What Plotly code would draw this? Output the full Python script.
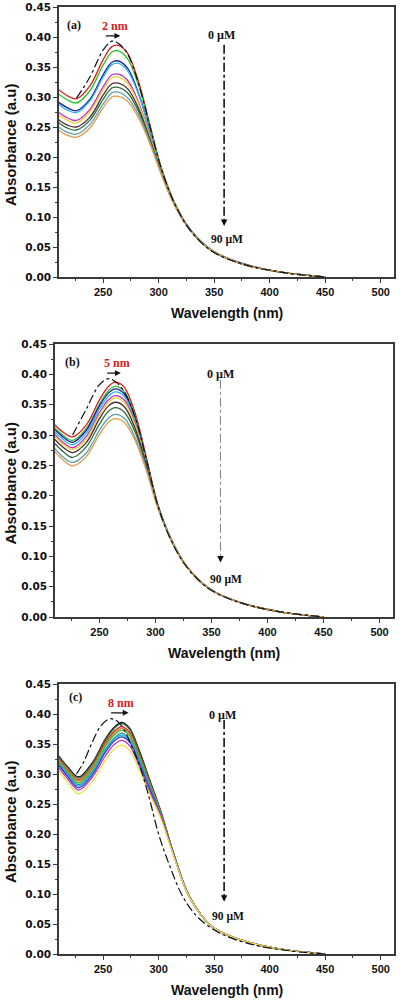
import plotly.graph_objects as go

# ---------------- data ----------------
wl = [210, 218, 226, 238, 250, 258, 264, 272, 282, 292, 302, 314, 328, 348, 375, 410, 450]
wl_c = [210, 218, 228, 240, 252, 260, 267, 274, 282, 292, 302, 314, 328, 348, 375, 410, 450]
wl_dash = [226, 238, 250, 258, 264, 272, 282, 292, 302, 314, 328, 348, 375, 410, 450]
wl_dash_c = [226, 232, 240, 248, 256, 262, 268, 276, 284, 292, 300, 310, 322, 336, 356, 386, 420, 450]

# panel (a)
a_0uM = [0.298, 0.333, 0.378, 0.393, 0.389, 0.372, 0.322, 0.252, 0.183, 0.124, 0.079, 0.043, 0.022, 0.008, 0.000]
a_1 = [0.312, 0.302, 0.297, 0.318, 0.362, 0.384, 0.386, 0.373, 0.325, 0.255, 0.185, 0.125, 0.080, 0.044, 0.022, 0.008, 0.000]
a_2 = [0.305, 0.295, 0.290, 0.310, 0.353, 0.375, 0.377, 0.364, 0.319, 0.252, 0.184, 0.125, 0.080, 0.044, 0.023, 0.008, 0.000]
a_3 = [0.291, 0.282, 0.277, 0.296, 0.337, 0.358, 0.360, 0.348, 0.306, 0.245, 0.181, 0.124, 0.080, 0.044, 0.022, 0.008, 0.000]
a_4 = [0.288, 0.278, 0.274, 0.293, 0.333, 0.354, 0.356, 0.344, 0.304, 0.244, 0.181, 0.124, 0.080, 0.045, 0.022, 0.008, 0.000]
a_5 = [0.274, 0.265, 0.261, 0.279, 0.317, 0.337, 0.338, 0.328, 0.291, 0.237, 0.178, 0.123, 0.079, 0.044, 0.023, 0.008, 0.000]
a_6 = [0.270, 0.261, 0.257, 0.275, 0.312, 0.332, 0.333, 0.323, 0.288, 0.235, 0.178, 0.123, 0.079, 0.044, 0.022, 0.008, 0.000]
a_7 = [0.262, 0.253, 0.250, 0.266, 0.303, 0.322, 0.323, 0.314, 0.281, 0.231, 0.176, 0.122, 0.079, 0.044, 0.022, 0.008, 0.000]
a_8 = [0.257, 0.248, 0.245, 0.261, 0.296, 0.315, 0.316, 0.307, 0.276, 0.229, 0.175, 0.122, 0.079, 0.044, 0.022, 0.008, 0.000]
a_9 = [0.250, 0.241, 0.238, 0.254, 0.288, 0.307, 0.308, 0.299, 0.270, 0.226, 0.174, 0.121, 0.079, 0.044, 0.022, 0.008, 0.000]
a_10 = [0.245, 0.236, 0.233, 0.248, 0.282, 0.300, 0.301, 0.293, 0.265, 0.223, 0.173, 0.121, 0.079, 0.044, 0.022, 0.008, 0.000]

# panel (b)
b_0uM = [0.300, 0.342, 0.383, 0.393, 0.388, 0.372, 0.328, 0.258, 0.184, 0.126, 0.082, 0.046, 0.024, 0.009, 0.000]
b_1 = [0.317, 0.304, 0.297, 0.316, 0.358, 0.380, 0.387, 0.379, 0.335, 0.262, 0.186, 0.128, 0.083, 0.047, 0.024, 0.009, 0.000]
b_2 = [0.312, 0.299, 0.291, 0.310, 0.351, 0.373, 0.380, 0.372, 0.330, 0.259, 0.185, 0.128, 0.083, 0.047, 0.024, 0.009, 0.000]
b_3 = [0.309, 0.296, 0.288, 0.307, 0.348, 0.369, 0.376, 0.368, 0.327, 0.258, 0.185, 0.128, 0.083, 0.047, 0.024, 0.009, 0.000]
b_4 = [0.305, 0.292, 0.284, 0.302, 0.343, 0.364, 0.371, 0.364, 0.323, 0.256, 0.184, 0.128, 0.083, 0.047, 0.024, 0.009, 0.000]
b_5 = [0.301, 0.287, 0.279, 0.297, 0.337, 0.358, 0.365, 0.358, 0.319, 0.254, 0.184, 0.128, 0.083, 0.047, 0.024, 0.009, 0.000]
b_6 = [0.298, 0.284, 0.276, 0.293, 0.333, 0.354, 0.361, 0.354, 0.316, 0.252, 0.183, 0.128, 0.083, 0.047, 0.024, 0.009, 0.000]
b_7 = [0.293, 0.279, 0.271, 0.287, 0.327, 0.348, 0.354, 0.347, 0.310, 0.250, 0.183, 0.127, 0.083, 0.047, 0.024, 0.009, 0.000]
b_8 = [0.286, 0.272, 0.263, 0.280, 0.318, 0.339, 0.345, 0.338, 0.304, 0.247, 0.182, 0.127, 0.083, 0.047, 0.024, 0.009, 0.000]
b_9 = [0.278, 0.263, 0.255, 0.270, 0.308, 0.328, 0.334, 0.328, 0.295, 0.243, 0.181, 0.127, 0.083, 0.047, 0.024, 0.009, 0.000]
b_10 = [0.273, 0.258, 0.249, 0.264, 0.301, 0.321, 0.327, 0.321, 0.290, 0.240, 0.180, 0.127, 0.083, 0.047, 0.024, 0.009, 0.000]

# panel (c)
c_0uM = [0.300, 0.318, 0.352, 0.380, 0.392, 0.389, 0.377, 0.345, 0.308, 0.257, 0.200, 0.147, 0.095, 0.060, 0.034, 0.015, 0.005, 0.000]
c_1 = [0.330, 0.312, 0.295, 0.318, 0.358, 0.378, 0.386, 0.376, 0.342, 0.290, 0.238, 0.165, 0.095, 0.046, 0.023, 0.008, 0.000]
c_2 = [0.329, 0.311, 0.293, 0.316, 0.356, 0.376, 0.384, 0.374, 0.340, 0.289, 0.237, 0.165, 0.095, 0.046, 0.023, 0.008, 0.000]
c_3 = [0.326, 0.307, 0.290, 0.312, 0.352, 0.371, 0.379, 0.369, 0.336, 0.286, 0.236, 0.164, 0.095, 0.046, 0.023, 0.008, 0.000]
c_4 = [0.324, 0.305, 0.288, 0.310, 0.349, 0.368, 0.376, 0.366, 0.333, 0.284, 0.235, 0.164, 0.095, 0.046, 0.023, 0.008, 0.000]
c_5 = [0.322, 0.303, 0.285, 0.307, 0.346, 0.365, 0.373, 0.363, 0.331, 0.282, 0.234, 0.164, 0.095, 0.046, 0.023, 0.008, 0.000]
c_6 = [0.319, 0.300, 0.282, 0.303, 0.341, 0.360, 0.368, 0.358, 0.326, 0.279, 0.232, 0.163, 0.095, 0.046, 0.023, 0.008, 0.000]
c_7 = [0.317, 0.298, 0.280, 0.301, 0.339, 0.358, 0.365, 0.356, 0.324, 0.277, 0.231, 0.163, 0.094, 0.046, 0.023, 0.008, 0.000]
c_8 = [0.315, 0.296, 0.277, 0.298, 0.336, 0.355, 0.362, 0.353, 0.321, 0.275, 0.230, 0.163, 0.094, 0.046, 0.023, 0.008, 0.000]
c_9 = [0.311, 0.292, 0.273, 0.294, 0.330, 0.349, 0.356, 0.347, 0.316, 0.271, 0.229, 0.162, 0.094, 0.046, 0.023, 0.008, 0.000]
c_10 = [0.306, 0.286, 0.267, 0.287, 0.323, 0.341, 0.348, 0.339, 0.309, 0.266, 0.226, 0.161, 0.094, 0.046, 0.023, 0.008, 0.000]

colors_ab = ["#d62020", "#2fbf2f", "#1f1f9f", "#29b6e6", "#c030c0", "#e6d23a",
             "#4a2a2a", "#2d6b3c", "#5a9fb0", "#e39a4a"]
colors_c = ["#111111", "#2d6b3c", "#d62020", "#d9843a", "#2fbf2f", "#3a8f8f",
            "#29b6e6", "#2a3fd0", "#c030c0", "#f0e040"]

shift_labels = ["2 nm", "5 nm", "8 nm"]
panel_labels = ["(a)", "(b)", "(c)"]

# ---------------- figure ----------------
W, H = 400, 1000
fig = go.Figure()

panels = [
    dict(x=wl, xd=wl_dash, dash=a_0uM, series=[a_1, a_2, a_3, a_4, a_5, a_6, a_7, a_8, a_9, a_10],
         colors=colors_ab, px=(59, 394), py=(7, 277), vline="#111111", vw=1.6),
    dict(x=wl, xd=wl_dash, dash=b_0uM, series=[b_1, b_2, b_3, b_4, b_5, b_6, b_7, b_8, b_9, b_10],
         colors=colors_ab, px=(55, 393), py=(344, 617), vline="#8a8a8a", vw=1.1),
    dict(x=wl_c, xd=wl_dash_c, dash=c_0uM, series=[c_1, c_2, c_3, c_4, c_5, c_6, c_7, c_8, c_9, c_10],
         colors=colors_c, px=(59, 394), py=(684, 954), vline="#111111", vw=1.6),
]

# annotation positions (data coords)
lab_pos = [(223.5, 0.420), (225.5, 0.420), (225.5, 0.428)]
shift_pos = [(260.5, 0.418), (265.5, 0.419), (266.0, 0.419)]
arrow_pos = [(265.5, 0.402, -16), (269.0, 0.402, -15), (273.0, 0.402, -19)]
top_pos = [(356.5, 0.403), (358.0, 0.400), (357.5, 0.399)]
vline_pos = [(359.0, 0.387, 0.085), (358.0, 0.391, 0.090), (359.0, 0.390, 0.087)]
bot_pos = [(362.0, 0.062), (363.0, 0.061), (362.5, 0.062)]

xtick_font = dict(family="Liberation Sans, Arial", size=11, color="#111", weight="bold")
ytick_font = dict(family="DejaVu Sans", size=10.5, color="#111", weight="bold")
serif_bold = dict(family="Liberation Serif, Times New Roman", size=12, color="#111", weight="bold")

for i, p in enumerate(panels):
    n = "" if i == 0 else str(i + 1)
    xa, ya = "x" + n, "y" + n
    for s, col in zip(p["series"], p["colors"]):
        fig.add_trace(go.Scatter(x=p["x"], y=s, mode="lines", xaxis=xa, yaxis=ya,
                                 line=dict(color=col, width=1.3, shape="spline", smoothing=1.0),
                                 showlegend=False, hoverinfo="skip"))
    fig.add_trace(go.Scatter(x=p["xd"], y=p["dash"], mode="lines", xaxis=xa, yaxis=ya,
                             line=dict(color="#111", width=1.2, dash="dashdot", shape="spline", smoothing=1.0),
                             showlegend=False, hoverinfo="skip"))

    x0, x1 = p["px"]
    y0, y1 = p["py"]
    axis_common = dict(showline=True, linecolor="#3a3a3a", linewidth=1.5, mirror=True,
                       showgrid=False, zeroline=False, ticks="outside", ticklen=4,
                       tickcolor="#3a3a3a", tickwidth=1.2, automargin=False)
    fig.update_layout(**{
        ("xaxis" + n): dict(domain=[x0 / W, x1 / W], anchor=ya, range=[210.3, 512],
                            tickmode="linear", tick0=0, dtick=50, tickfont=xtick_font,
                            minor=dict(dtick=25, ticks="outside", ticklen=2.5, tickcolor="#3a3a3a"),
                            **axis_common),
        ("yaxis" + n): dict(domain=[1 - y1 / H, 1 - y0 / H], anchor=xa, range=[0, 0.45],
                            tickmode="linear", tick0=0, dtick=0.05, tickformat=".2f", tickfont=ytick_font,
                            minor=dict(dtick=0.025, ticks="outside", ticklen=2.5, tickcolor="#3a3a3a"),
                            **axis_common),
    })

    # panel label
    fig.add_annotation(x=lab_pos[i][0], y=lab_pos[i][1], xref=xa, yref=ya, text=panel_labels[i],
                       showarrow=False, font=serif_bold, xanchor="center", yanchor="middle")
    # shift label
    fig.add_annotation(x=shift_pos[i][0], y=shift_pos[i][1], xref=xa, yref=ya, text=shift_labels[i],
                       showarrow=False, xanchor="center", yanchor="middle",
                       font=dict(family="Liberation Serif, Times New Roman", size=12,
                                 color="#d42020", weight="bold"))
    # shift arrow
    ax_, ay_, dx = arrow_pos[i]
    fig.add_annotation(x=ax_, y=ay_, xref=xa, yref=ya, text="", showarrow=True, ax=dx, ay=0,
                       arrowhead=2, arrowsize=0.9, arrowwidth=1.3, arrowcolor="#111", standoff=0)
    # concentration labels
    fig.add_annotation(x=top_pos[i][0], y=top_pos[i][1], xref=xa, yref=ya, text="0 µM",
                       showarrow=False, xanchor="center", yanchor="middle",
                       font=dict(family="Liberation Serif, Times New Roman", size=12,
                                 color="#111", weight="bold"))
    fig.add_annotation(x=bot_pos[i][0], y=bot_pos[i][1], xref=xa, yref=ya, text="90 µM",
                       showarrow=False, xanchor="center", yanchor="middle",
                       font=dict(family="Liberation Serif, Times New Roman", size=11.5,
                                 color="#111", weight="bold"))
    # vertical dash-dot arrow
    vx, vtop, vbot = vline_pos[i]
    fig.add_shape(type="line", xref=xa, yref=ya, x0=vx, x1=vx, y0=vtop, y1=vbot + 0.008,
                  line=dict(color=p["vline"], width=p["vw"], dash="dashdot"))
    fig.add_annotation(x=vx, y=vbot, xref=xa, yref=ya, text="", showarrow=True, ax=0, ay=-7,
                       arrowhead=2, arrowsize=1, arrowwidth=1.3, arrowcolor="#111", standoff=0)

    # axis titles
    fig.add_annotation(x=((x0 + x1) / 2) / W, y=1 - (y1 + 36) / H, xref="paper", yref="paper",
                       xanchor="center", yanchor="middle",
                       text="Wavelength (nm)", showarrow=False,
                       font=dict(family="Liberation Sans, Arial", size=14, color="#111", weight="bold"))
    fig.add_annotation(x=10 / W, y=1 - ((y0 + y1) / 2 + 3) / H, xref="paper", yref="paper",
                       xanchor="center", yanchor="middle",
                       text="Absorbance (a.u)", textangle=-90, showarrow=False,
                       font=dict(family="Liberation Sans, Arial", size=15, color="#111", weight="bold"))

fig.update_layout(width=W, height=H, margin=dict(l=0, r=0, t=0, b=0),
                  paper_bgcolor="white", plot_bgcolor="white", showlegend=False)

fig.write_html("out.html", config={"displayModeBar": False},
               post_script="document.body.style.margin='0px';")
